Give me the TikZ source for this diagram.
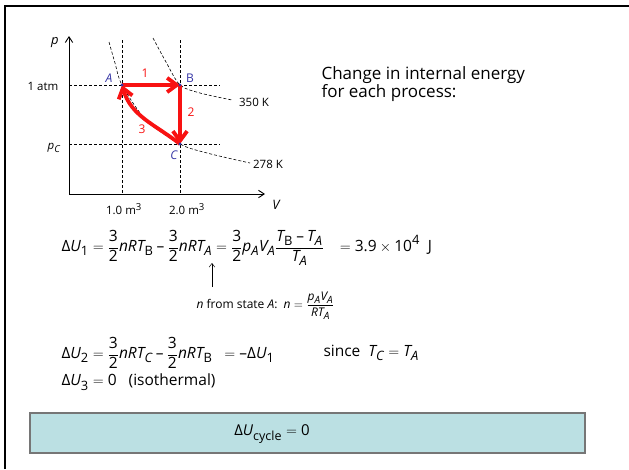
\documentclass[tikz,border=0pt]{standalone}
\usepackage{amsmath}
\usepackage{fontspec}
\setmainfont{Open Sans}
\usepackage[italic]{mathastext}
\usetikzlibrary{arrows.meta}
\definecolor{pred}{HTML}{F81212}
\definecolor{pblue}{HTML}{3535A5}
\definecolor{boxfill}{HTML}{BBE0E3}
\definecolor{boxline}{HTML}{767676}
\newcommand{\thf}{\frac{\text{3}}{\text{2}}}
\newcommand{\dg}[1]{\text{#1}}
\newcommand{\dU}{\text{Δ}U}

\begin{document}
\begin{tikzpicture}[
  x=1pt, y=-1pt,
  font=\fontsize{11}{13}\selectfont,
  ax/.style={line width=0.9pt, -{Straight Barb[length=2mm,width=2.6mm]}},
  guide/.style={line width=0.6pt, dash pattern=on 3pt off 2pt},
  iso/.style={line width=0.6pt, dash pattern=on 3pt off 2pt},
  proc/.style={pred, line width=3.8pt, -{Straight Barb[length=3.4mm,width=5mm]}},
  stlab/.style={text=pblue, font=\fontsize{12}{14}\selectfont},
  stepno/.style={text=pred, font=\fontsize{12}{14}\selectfont},
  eq/.style={anchor=west, font=\fontsize{15.5}{18}\selectfont},
  small/.style={font=\fontsize{11.5}{13}\selectfont}
]
\useasboundingbox (0,0) rectangle (629,469);

% slide frame
\draw[line width=2pt] (5,469) -- (5,6) -- (629,6);

% axes
\coordinate (O) at (69,194);
\coordinate (Ptop) at (69,36);
\coordinate (Vend) at (265,194);
\draw[ax] (O) -- (Ptop);
\draw[ax] (O) -- (Vend);
\node[font=\fontsize{13}{15}\selectfont] (plab) at (55,43) {$p$};
\node[font=\fontsize{13}{15}\selectfont] (vlab) at (276,205) {$V$};

% states
\coordinate (A) at (122,85);
\coordinate (B) at (180,85);
\coordinate (C) at (180,144);

% guide lines
\draw[guide] (122,40) -- (O -| A);
\draw[guide] (180,40) -- (O -| B);
\draw[guide] (O |- A) -- (220,85);
\draw[guide] (O |- C) -- (220,144);
\node[small] (atm) at (43,86) {1 atm};
\node[small] (pc) at (54,148) {$p_C$};
\node[small] (va) at (124,209) {1.0 m$^\dg{3}$};
\node[small] (vb) at (187,209) {2.0 m$^\dg{3}$};

% isotherms
\draw[iso] plot[smooth] coordinates {(153,38) (166,62) (B) (200,93) (232,100)};
\draw[iso] plot[smooth] coordinates {(109,42) (115,63) (A) (146,120) (C) (207,153) (250,163)};
\node[small] (hot) at (254,102) {350 K};
\node[small] (cold) at (268,164) {278 K};

% processes
\draw[proc] (A) -- (B);
\draw[proc] (B) -- (C);
\draw[proc] (C) to[out=142, in=-74] (A);
\foreach \s in {A,B,C} \fill[pblue] (\s) circle (1.6pt);
\node[stlab] (Alab) at (109,78) {\itshape A};
\node[stlab] (Blab) at (190,78) {B};
\node[stlab] (Clab) at (174,155) {\itshape C};
\node[stepno] (one) at (145,73) {1};
\node[stepno] (two) at (191,112) {2};
\node[stepno] (three) at (142,129) {3};

% heading
\node[anchor=west, align=left, font=\fontsize{17}{18}\selectfont] (head) at (318,84)
  {Change in internal energy\\for each process:};

% equations
\node[eq] (du1) at (58,248)
  {$\displaystyle \dU_\dg{1} = \thf nRT_\mathrm{B} - \thf nRT_A
   = \thf p_AV_A\frac{T_\mathrm{B}-T_A}{T_A} \;\;\; = \dg{3.9}\times\dg{10}^\dg{4}$\ \ J};
\coordinate (eqmark) at (212,263);
\coordinate (nfoot) at (212,287);
\draw[line width=0.5pt, -{Straight Barb[length=1.3mm,width=2mm]}] (nfoot) -- (eqmark);
\node[eq, font=\fontsize{12}{14}\selectfont] (nsrc) at (193,306)
  {$n$ from state $A$:\ \ $n = \dfrac{p_AV_A}{RT_A}$};
\node[eq] (du2) at (58,353)
  {$\displaystyle \dU_\dg{2} = \thf nRT_C - \thf nRT_\mathrm{B} \;\; = -\dU_\dg{1}$};
\node[eq] (since) at (320,353) {since\ \ $T_C = T_A$};
\node[eq] (du3) at (58,382) {$\dU_\dg{3} = \dg{0}$\ \ \ (isothermal)};

% result box
\draw[fill=boxfill, draw=boxline, line width=1.5pt] (30,413) rectangle (585,453);
\node[font=\fontsize{15}{17}\selectfont] (cyc) at (272,434) {$\dU_\mathrm{cycle} = \dg{0}$};
\end{tikzpicture}
\end{document}
